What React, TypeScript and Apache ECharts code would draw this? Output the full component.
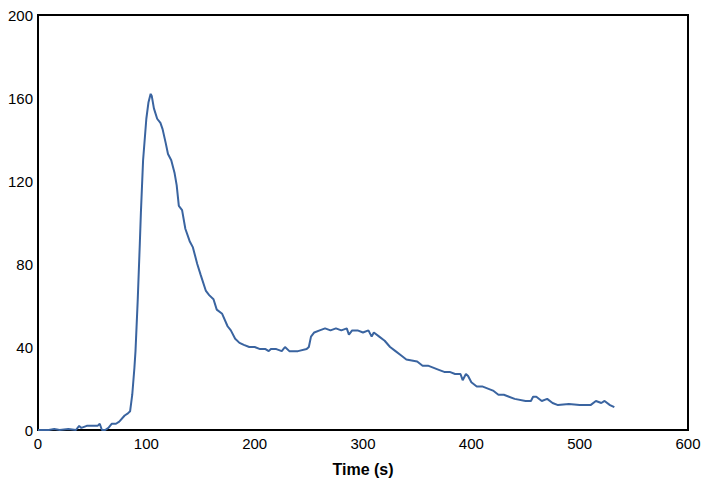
import { useEffect, useRef } from "react";
import * as echarts from "echarts";

const timeS = [0, 10, 15, 20, 28, 35, 38, 40, 45, 50, 55, 57, 59, 62, 65, 68, 72, 75, 80, 83, 85, 87, 89, 90, 92, 94, 95, 97, 100, 102, 104, 105, 107, 110, 113, 115, 118, 120, 123, 126, 128, 130, 133, 136, 140, 143, 147, 150, 155, 158, 162, 165, 170, 175, 178, 182, 186, 190, 195, 200, 205, 210, 213, 215, 220, 225, 228, 232, 240, 248, 250, 252, 255, 260, 265, 270, 275, 280, 285, 287, 290, 295, 300, 305, 308, 310, 315, 320, 325, 330, 335, 340, 350, 355, 360, 370, 375, 380, 385, 390, 392, 395, 397, 400, 405, 410, 420, 425, 430, 440, 450, 455, 457, 460, 465, 470, 475, 480, 490, 500, 510, 515, 520, 523, 528, 532];
const values = [0, 0, 0.5, 0, 0.5, 0, 2, 1, 2, 2, 2, 3, 0, 0, 1, 3, 3, 4, 7, 8, 9, 17, 30, 38, 62, 90, 105, 130, 150, 158, 162, 161, 155, 150, 148, 145, 138, 133, 130, 124, 118, 108, 106, 97, 91, 88, 80, 75, 67, 65, 63, 58, 56, 50, 48, 44, 42, 41, 40, 40, 39, 39, 38, 39, 39, 38, 40, 38, 38, 39, 40, 45, 47, 48, 49, 48, 49, 48, 49, 46, 48, 48, 47, 48, 45, 47, 45, 43, 40, 38, 36, 34, 33, 31, 31, 29, 28, 28, 27, 27, 24, 27, 26, 23, 21, 21, 19, 17, 17, 15, 14, 14, 16, 16, 14, 15, 13, 12, 12.5, 12, 12, 14, 13, 14, 12, 11];

export default function App() {
  const ref = useRef<HTMLDivElement>(null);

  useEffect(() => {
    document.body.style.margin = "0";
    if (!ref.current) return;
    const chart = echarts.init(ref.current, undefined, { renderer: "svg" });
    const font = "Liberation Sans, Arial, sans-serif";
    chart.setOption({
      animation: false,
      grid: { left: 38, right: 17, top: 15, bottom: 51, show: true, borderColor: "#000", borderWidth: 2 },
      xAxis: {
        type: "value",
        min: 0,
        max: 600,
        interval: 100,
        name: "Time (s)",
        nameLocation: "middle",
        nameGap: 31,
        nameTextStyle: { color: "#000", fontSize: 16, fontWeight: "bold", fontFamily: font },
        axisLine: { show: false },
        axisTick: { show: false },
        splitLine: { show: false },
        axisLabel: { color: "#000", fontSize: 15, fontFamily: font, margin: 6 },
      },
      yAxis: {
        type: "value",
        min: 0,
        max: 200,
        interval: 40,
        axisLine: { show: false },
        axisTick: { show: false },
        splitLine: { show: false },
        axisLabel: { color: "#000", fontSize: 15, fontFamily: font, margin: 5 },
      },
      series: [
        {
          type: "line",
          data: timeS.map((t, i) => [t, values[i]]),
          showSymbol: false,
          lineStyle: { color: "#3a64a0", width: 2 },
        },
      ],
    });
    return () => chart.dispose();
  }, []);

  return <div ref={ref} style={{ width: 705, height: 482 }} />;
}
